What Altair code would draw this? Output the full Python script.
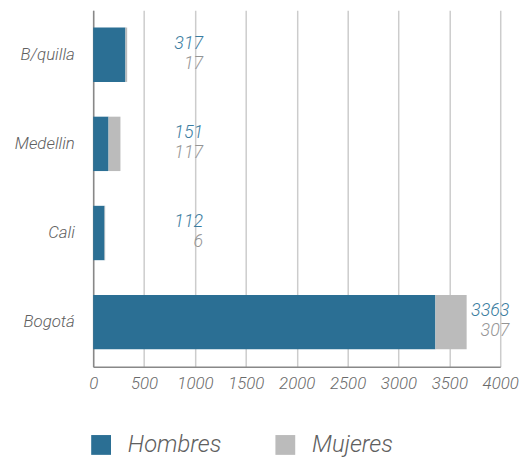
import altair as alt
import pandas as pd

cities = ["B/quilla", "Medellin", "Cali", "Bogotá"]
hombres = [317, 151, 112, 3363]
mujeres = [17, 117, 6, 307]
series = ["Hombres", "Mujeres"]
colors = ["#2b6f94", "#bbbbbb"]
x_ticks = [0, 500, 1000, 1500, 2000, 2500, 3000, 3500, 4000]

rows = []
for c, h, m in zip(cities, hombres, mujeres):
    rows.append({"city": c, "sex": "Hombres", "value": h, "ord": 0})
    rows.append({"city": c, "sex": "Mujeres", "value": m, "ord": 1})
long_df = pd.DataFrame(rows)
wide_df = pd.DataFrame({"city": cities, "hombres": hombres, "mujeres": mujeres})

FONT = "Roboto"
W = 300

y_enc = alt.Y(
    "city:N",
    sort=cities,
    title=None,
    scale=alt.Scale(paddingInner=0.39, paddingOuter=0.195),
    axis=alt.Axis(
        ticks=False,
        labelPadding=19,
        labelFontSize=17,
        labelFont=FONT,
        labelFontStyle="italic",
        labelFontWeight=W,
        labelColor="#606060",
        domainColor="#888888",
        domainWidth=1.5,
        grid=False,
        minExtent=86,
        maxExtent=86,
    ),
)

x_scale = alt.Scale(domain=[0, 4000], nice=False)

bars = alt.Chart(long_df).mark_bar().encode(
    x=alt.X(
        "value:Q",
        stack="zero",
        scale=x_scale,
        title=None,
        axis=alt.Axis(
            values=x_ticks,
            format="d",
            ticks=False,
            labelPadding=9,
            labelFontSize=17,
            labelFont=FONT,
            labelFontStyle="italic",
            labelFontWeight=W,
            labelColor="#6a6a6a",
            domainColor="#888888",
            domainWidth=1.5,
            grid=True,
            gridColor="#cccccc",
            gridWidth=1.5,
            labelFlush=False,
        ),
    ),
    y=y_enc,
    color=alt.Color(
        "sex:N",
        scale=alt.Scale(domain=series, range=colors),
        legend=alt.Legend(
            title=None,
            orient="none",
            legendX=-4,
            legendY=427,
            direction="horizontal",
            symbolType="square",
            symbolSize=400,
            symbolStrokeWidth=0,
            labelFontSize=24,
            labelFont=FONT,
            labelFontStyle="italic",
            labelFontWeight=W,
            labelColor="#606060",
            labelOffset=15,
            columnPadding=52,
        ),
    ),
    order=alt.Order("ord:Q"),
)

base_text = alt.Chart(wide_df).transform_calculate(
    total="datum.hombres + datum.mujeres",
).transform_calculate(
    labx="datum.total > 2000 ? datum.total + 420 : 1080",
)

text_h = base_text.mark_text(
    align="right", baseline="middle", dy=-11, fontSize=18, font=FONT,
    fontStyle="italic", fontWeight=W, color="#3a7ca0",
).encode(
    x=alt.X("labx:Q", scale=x_scale),
    y=alt.Y("city:N", sort=cities),
    text=alt.Text("hombres:Q"),
)

text_m = base_text.mark_text(
    align="right", baseline="middle", dy=9, fontSize=18, font=FONT,
    fontStyle="italic", fontWeight=W, color="#959595",
).encode(
    x=alt.X("labx:Q", scale=x_scale),
    y=alt.Y("city:N", sort=cities),
    text=alt.Text("mujeres:Q"),
)

chart = alt.layer(bars, text_h, text_m).properties(
    width=411,
    height=360,
    padding={"left": 0, "top": 0, "right": 5, "bottom": 0},
).configure_view(stroke=None)

chart.save("out.html", embed_options={"renderer": "svg", "actions": False})
